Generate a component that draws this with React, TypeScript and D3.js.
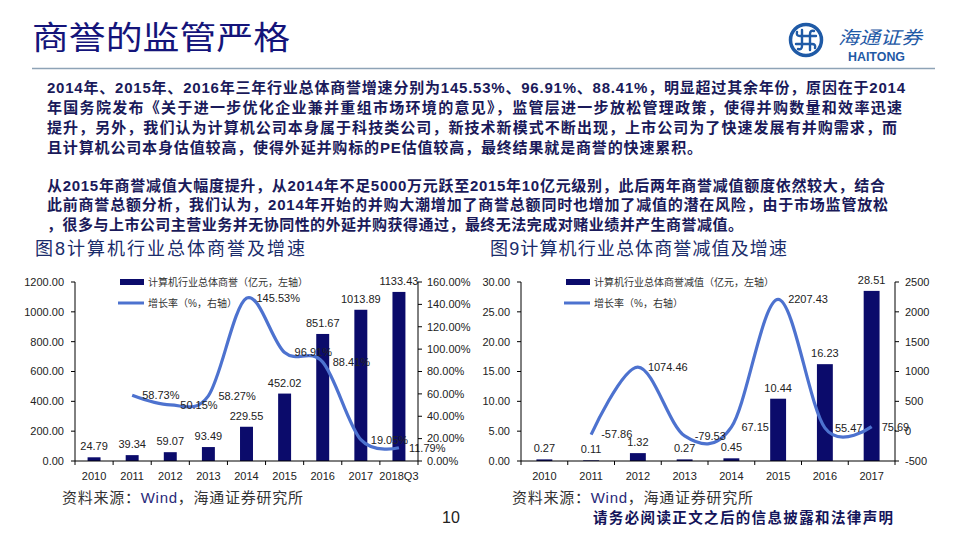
import React from 'react';
import * as d3 from 'd3';

const years1 = ['2010', '2011', '2012', '2013', '2014', '2015', '2016', '2017', '2018Q3'];
const goodwill = [24.79, 39.34, 59.07, 93.49, 229.55, 452.02, 851.67, 1013.89, 1133.43];
const goodwillGrowth: (number | null)[] = [null, 58.73, 50.15, 58.27, 145.53, 96.91, 88.41, 19.05, 11.79];
const left1Ticks = [0, 200, 400, 600, 800, 1000, 1200];
const right1Ticks = [0, 20, 40, 60, 80, 100, 120, 140, 160];

const years2 = ['2010', '2011', '2012', '2013', '2014', '2015', '2016', '2017'];
const impairment = [0.27, 0.11, 1.32, 0.27, 0.45, 10.44, 16.23, 28.51];
const impairmentGrowth: (number | null)[] = [null, -57.86, 1074.46, -79.53, 67.15, 2207.43, 55.47, 75.69];
const left2Ticks = [0, 5, 10, 15, 20, 25, 30];
const right2Ticks = [-500, 0, 500, 1000, 1500, 2000, 2500];

const para1 = [
  '2014年、2015年、2016年三年行业总体商誉增速分别为145.53%、96.91%、88.41%，明显超过其余年份，原因在于2014',
  '年国务院发布《关于进一步优化企业兼并重组市场环境的意见》，监管层进一步放松管理政策，使得并购数量和效率迅速',
  '提升，另外，我们认为计算机公司本身属于科技类公司，新技术新模式不断出现，上市公司为了快速发展有并购需求，而',
  '且计算机公司本身估值较高，使得外延并购标的PE估值较高，最终结果就是商誉的快速累积。',
];
const para2 = [
  '从2015年商誉减值大幅度提升，从2014年不足5000万元跃至2015年10亿元级别，此后两年商誉减值额度依然较大，结合',
  '此前商誉总额分析，我们认为，2014年开始的并购大潮增加了商誉总额同时也增加了减值的潜在风险，由于市场监管放松',
  '，很多与上市公司主营业务并无协同性的外延并购获得通过，最终无法完成对赌业绩并产生商誉减值。',
];
const para1Ends = [905, 902, 897, 702];
const para2Ends = [885, 888, 743];

const BAR = '#0b0b6b';
const LINE = '#4d72cf';
const NAVY = '#1a1a5a';
const LATIN = "'Liberation Sans', Arial, 'Noto Sans CJK SC', sans-serif";
const CJK = "'Liberation Sans', 'Noto Sans CJK SC', sans-serif";

type ChartProps = {
  x0: number; x1: number; top: number; bottom: number;
  cats: string[]; bars: number[]; growth: (number | null)[];
  leftTicks: number[]; rightTicks: number[];
  leftFmt: (v: number) => string; rightFmt: (v: number) => string;
  lineFmt: (v: number) => string;
  legendX: number; barLegend: string; lineLegend: string;
  rightLabelX: number;
};

function Chart(p: ChartProps) {
  const x = d3.scaleBand<string>().domain(p.cats).range([p.x0, p.x1]).paddingInner(0).paddingOuter(0);
  const bw = x.bandwidth() * 0.34;
  const yl = d3.scaleLinear().domain([p.leftTicks[0], p.leftTicks[p.leftTicks.length - 1]]).range([p.bottom, p.top]);
  const yr = d3.scaleLinear().domain([p.rightTicks[0], p.rightTicks[p.rightTicks.length - 1]]).range([p.bottom, p.top]);
  const pts = p.cats
    .map((c, i) => ({ c, v: p.growth[i] }))
    .filter((d) => d.v !== null) as { c: string; v: number }[];
  const line = d3.line<{ c: string; v: number }>()
    .x((d) => (x(d.c) as number) + x.bandwidth() / 2)
    .y((d) => yr(d.v))
    .curve(d3.curveCatmullRom.alpha(0));
  const boundaries = p.cats.map((c) => x(c) as number).concat([p.x1]);
  return (
    <g fontFamily={LATIN} fontSize={11} fill="#222">
      {p.bars.map((v, i) => {
        const cx = (x(p.cats[i]) as number) + x.bandwidth() / 2;
        return (
          <g key={'b' + i}>
            <rect x={cx - bw / 2} y={yl(v)} width={bw} height={p.bottom - yl(v)} fill={BAR} />
            <text x={cx} y={yl(v) - 7} textAnchor="middle">{v.toFixed(2)}</text>
          </g>
        );
      })}
      <path d={line(pts) || ''} fill="none" stroke={LINE} strokeWidth={3.2} />
      {pts.map((d, i) => (
        <text key={'l' + i} x={(x(d.c) as number) + x.bandwidth() / 2 + 10} y={yr(d.v)} dy="0.35em">
          {p.lineFmt(d.v)}
        </text>
      ))}
      <line x1={p.x0} x2={p.x0} y1={p.top} y2={p.bottom} stroke="#000" strokeWidth={1} />
      <line x1={p.x1} x2={p.x1} y1={p.top} y2={p.bottom} stroke="#000" strokeWidth={1} />
      <line x1={p.x0} x2={p.x1} y1={p.bottom} y2={p.bottom} stroke="#000" strokeWidth={1} />
      {p.leftTicks.map((t) => (
        <g key={'lt' + t}>
          <line x1={p.x0 - 4} x2={p.x0} y1={yl(t)} y2={yl(t)} stroke="#000" />
          <text x={p.x0 - 11} y={yl(t)} dy="0.35em" textAnchor="end">{p.leftFmt(t)}</text>
        </g>
      ))}
      {p.rightTicks.map((t) => (
        <g key={'rt' + t}>
          <line x1={p.x1} x2={p.x1 + 4} y1={yr(t)} y2={yr(t)} stroke="#000" />
          <text x={p.rightLabelX} y={yr(t)} dy="0.35em" textAnchor="start">{p.rightFmt(t)}</text>
        </g>
      ))}
      {boundaries.map((b, i) => (
        <line key={'xt' + i} x1={b} x2={b} y1={p.bottom} y2={p.bottom + 4} stroke="#000" />
      ))}
      {p.cats.map((c) => (
        <text key={'xl' + c} x={(x(c) as number) + x.bandwidth() / 2} y={p.bottom + 19} textAnchor="middle">{c}</text>
      ))}
      <rect x={p.legendX} y={p.top - 3} width={24} height={6} fill={BAR} />
      <text x={p.legendX + 28} y={p.top} dy="0.35em" fontSize={10} fontFamily={CJK} fill="#333">{p.barLegend}</text>
      <line x1={p.legendX - 2} x2={p.legendX + 24} y1={p.top + 21} y2={p.top + 21} stroke={LINE} strokeWidth={3} />
      <text x={p.legendX + 28} y={p.top + 21} dy="0.35em" fontSize={10} fontFamily={CJK} fill="#333">{p.lineLegend}</text>
    </g>
  );
}

export default function App() {
  const lc = '#1f5aa6';
  return (
    <div style={{ position: 'fixed', left: 0, top: 0, width: 960, height: 540, background: '#fff' }}>
      <svg width={960} height={540} viewBox="0 0 960 540" style={{ display: 'block' }}>
        <rect x={0} y={0} width={960} height={540} fill="#fff" />
        <text x={32} y={49} fontSize={32} fontFamily={CJK} fill="#14147a" textLength={258} lengthAdjust="spacingAndGlyphs">商誉的监管严格</text>
        <g>
          <circle cx={806} cy={40} r={15.5} fill="none" stroke={lc} strokeWidth={3.5} />
          <g fill="none" stroke={lc} strokeWidth={2.4} strokeLinecap="round">
            <path d="M802 30 L802 46 Q802 50 798 49" />
            <path d="M810 50 L810 34 Q810 30 814 31" />
            <path d="M796 44 L812 44 Q816 44 815 48" />
            <path d="M816 36 L800 36 Q796 36 797 32" />
          </g>
          <text x={838} y={44} fontSize={18} fontFamily={CJK} fontStyle="italic" fill={lc} textLength={84} lengthAdjust="spacingAndGlyphs">海通证券</text>
          <text x={848} y={61} fontSize={12} fontWeight={700} fontFamily={LATIN} fill={lc} textLength={57} lengthAdjust="spacingAndGlyphs">HAITONG</text>
        </g>
        <line x1={32} x2={935} y1={68.5} y2={68.5} stroke="#8ea3b6" strokeWidth={1.5} />
        <g fontSize={15} fontWeight={700} fontFamily={CJK} fill={NAVY}>
          {para1.map((s, i) => (
            <text key={'p1' + i} x={47} y={92.5 + i * 20.3} textLength={para1Ends[i] - 47} lengthAdjust="spacing">{s}</text>
          ))}
          {para2.map((s, i) => (
            <text key={'p2' + i} x={47} y={190.5 + i * 19.7} textLength={para2Ends[i] - 47} lengthAdjust="spacing">{s}</text>
          ))}
        </g>
        <text x={35} y={255} fontSize={18} fontFamily={CJK} fill="#1a2c6b" textLength={270} lengthAdjust="spacing">图8计算机行业总体商誉及增速</text>
        <text x={490} y={255} fontSize={18} fontFamily={CJK} fill="#1a2c6b" textLength={297} lengthAdjust="spacing">图9计算机行业总体商誉减值及增速</text>
        <Chart
          x0={75} x1={418} top={282} bottom={461}
          cats={years1} bars={goodwill} growth={goodwillGrowth}
          leftTicks={left1Ticks} rightTicks={right1Ticks}
          leftFmt={(v) => v.toFixed(2)} rightFmt={(v) => v.toFixed(2) + '%'}
          lineFmt={(v) => v.toFixed(2) + '%'}
          legendX={120} barLegend="计算机行业总体商誉（亿元，左轴）" lineLegend="增长率（%，右轴）"
          rightLabelX={427}
        />
        <Chart
          x0={521} x1={895} top={282} bottom={461}
          cats={years2} bars={impairment} growth={impairmentGrowth}
          leftTicks={left2Ticks} rightTicks={right2Ticks}
          leftFmt={(v) => v.toFixed(2)} rightFmt={(v) => String(v)}
          lineFmt={(v) => v.toFixed(2)}
          legendX={566} barLegend="计算机行业总体商誉减值（亿元，左轴）" lineLegend="增长率（%，右轴）"
          rightLabelX={905}
        />
        <text x={62} y={503} fontSize={15} fontFamily={CJK} fill="#333" textLength={241} lengthAdjust="spacing">
          资料来源：<tspan fill="#2a2a7a" fontFamily={LATIN}>Wind</tspan>，海通证券研究所
        </text>
        <text x={512} y={503} fontSize={15} fontFamily={CJK} fill="#333" textLength={241} lengthAdjust="spacing">
          资料来源：<tspan fill="#2a2a7a" fontFamily={LATIN}>Wind</tspan>，海通证券研究所
        </text>
        <text x={451} y={523} fontSize={16} fontFamily={LATIN} fill="#222" textAnchor="middle">10</text>
        <text x={593} y={523} fontSize={14.5} fontWeight={700} fontFamily={CJK} fill="#14145a" textLength={300} lengthAdjust="spacing">请务必阅读正文之后的信息披露和法律声明</text>
      </svg>
    </div>
  );
}
